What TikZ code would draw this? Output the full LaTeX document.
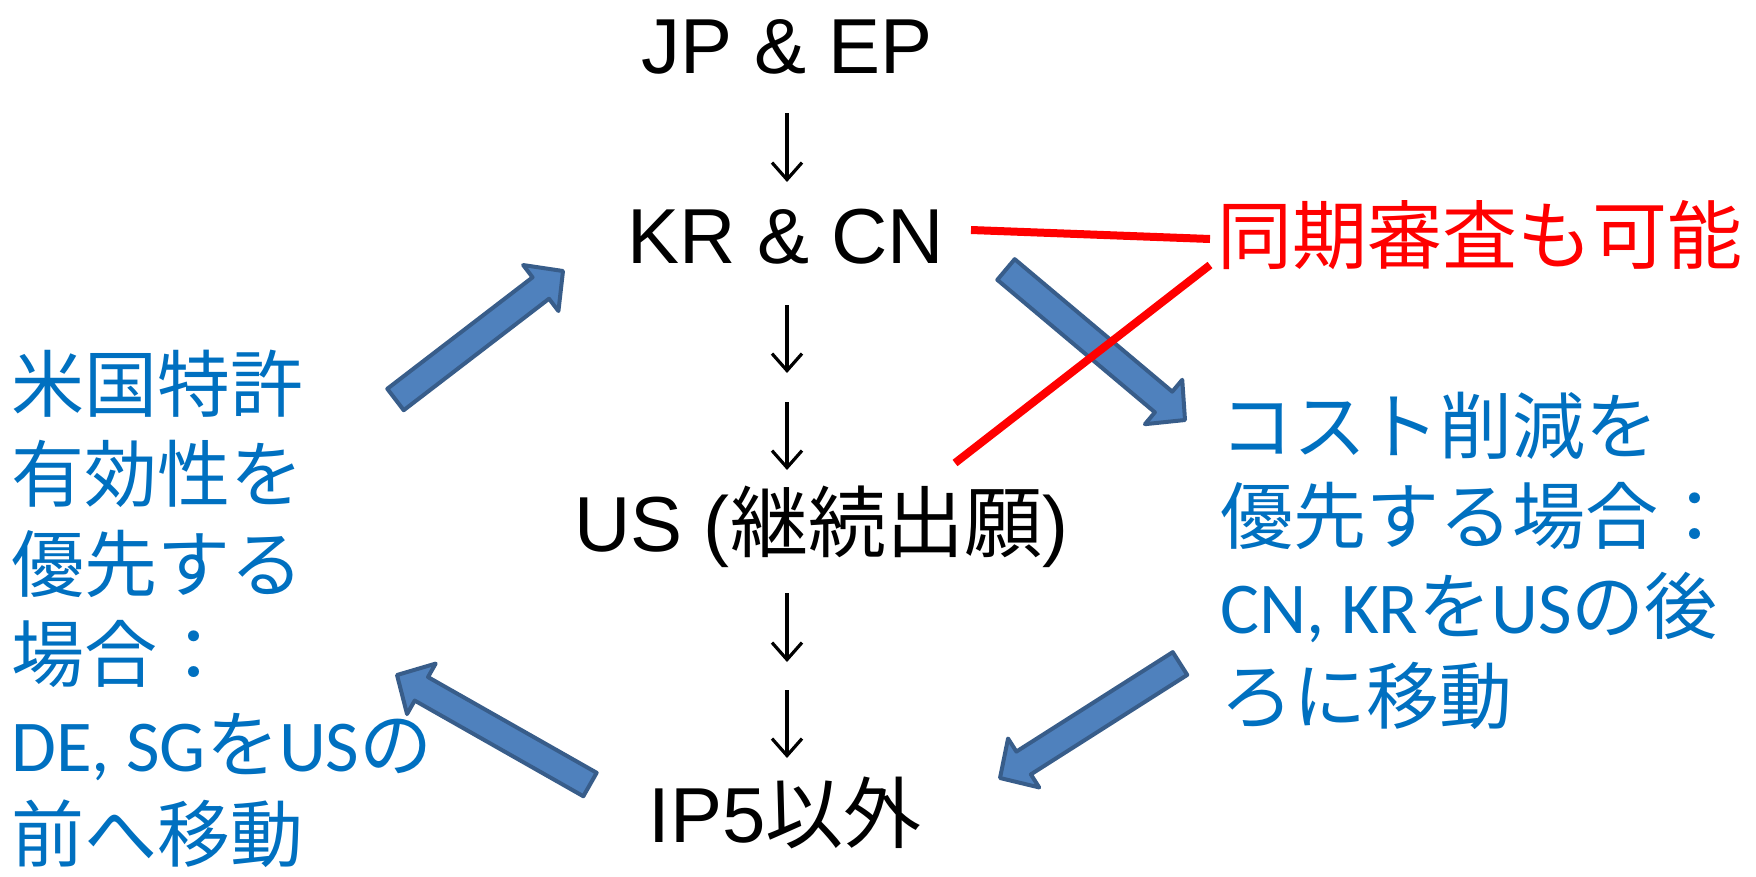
\documentclass[tikz,border=0pt]{standalone}
\usepackage{fontspec}
\setmainfont{Liberation Sans}
\newfontfamily\cjk{Noto Sans CJK JP}
\newfontfamily\lat{Carlito}
\usetikzlibrary{arrows.meta,calc}
\definecolor{jblue}{HTML}{0070C0}
\definecolor{afill}{HTML}{4F81BD}
\definecolor{aline}{HTML}{385D8A}
\newcommand\blockarrow[2]{%
  \coordinate (#1n) at ($(#2)!28pt!(#1)$);
  \draw[blockarr] ($(#1)!13.5pt!90:(#2)$) -- ($(#1n)!13.5pt!-90:(#1)$) -- ($(#1n)!29pt!-90:(#1)$) -- (#2) -- ($(#1n)!29pt!90:(#1)$) -- ($(#1n)!13.5pt!90:(#1)$) -- ($(#1)!13.5pt!-90:(#2)$) -- cycle;}
\begin{document}
\begin{tikzpicture}[x=1pt,y=-1pt,
  blk/.style={inner sep=0, font=\fontsize{78}{90}\selectfont},
  redt/.style={inner sep=0, text=red, font=\cjk\fontsize{75}{90}\selectfont},
  bluet/.style={inner sep=0, text=jblue, align=left, font=\cjk\fontsize{73}{90}\selectfont},
  downarr/.style={line width=3.2pt, -{Straight Barb[length=17pt,width=30pt]}},
  blockarr/.style={fill=afill, draw=aline, line width=4pt, line join=round},
  redline/.style={draw=red, line width=8pt}]
\useasboundingbox (0,0) rectangle (1756,876);

% main column
\node[blk, anchor=base] (jp) at (787,73) {JP \& EP};
\node[blk, anchor=base] (kr) at (786,263) {KR \& CN};
\node[blk, anchor=base] (us) at (821,551) {US ({\cjk 継続出願})};
\node[blk, anchor=base] (ip) at (785,842) {IP5{\cjk 以外}};

% down arrows
\coordinate (d1a) at (787,113); \coordinate (d1b) at (787,182);
\coordinate (d2a) at (787,305); \coordinate (d2b) at (787,373);
\coordinate (d3a) at (787,402); \coordinate (d3b) at (787,470);
\coordinate (d4a) at (787,593); \coordinate (d4b) at (787,662);
\coordinate (d5a) at (787,690); \coordinate (d5b) at (787,758);
\draw[downarr] (d1a) -- (d1b);
\draw[downarr] (d2a) -- (d2b);
\draw[downarr] (d3a) -- (d3b);
\draw[downarr] (d4a) -- (d4b);
\draw[downarr] (d5a) -- (d5b);

% side texts
\node[redt, anchor=base west] (sync) at (1217,263) {同期審査も可能};
\node[bluet, anchor=north west] (left) at (11,350) {米国特許\\有効性を\\優先する\\場合：\\{\lat DE, SG}を{\lat US}の\\前へ移動};
\node[bluet, anchor=north west] (right) at (1220,392) {コスト削減を\\優先する場合：\\{\lat CN, KR}を{\lat US}の後\\ろに移動};

% block arrows
\coordinate (aT) at (395.5,399.5); \coordinate (aH) at (563,271);
\coordinate (bT) at (1006,269.5); \coordinate (bH) at (1185,420);
\coordinate (cT) at (1180,663.5); \coordinate (cH) at (1000,778);
\coordinate (dT) at (590,784.5);  \coordinate (dH) at (397,675);
\blockarrow{aT}{aH}
\blockarrow{bT}{bH}
\blockarrow{cT}{cH}
\blockarrow{dT}{dH}

% red lines
\coordinate (r1a) at (971,230); \coordinate (r1b) at (1210,239);
\coordinate (r2a) at (955,463); \coordinate (r2b) at (1210,265);
\draw[redline] (r1a) -- (r1b);
\draw[redline] (r2a) -- (r2b);
\end{tikzpicture}
\end{document}
